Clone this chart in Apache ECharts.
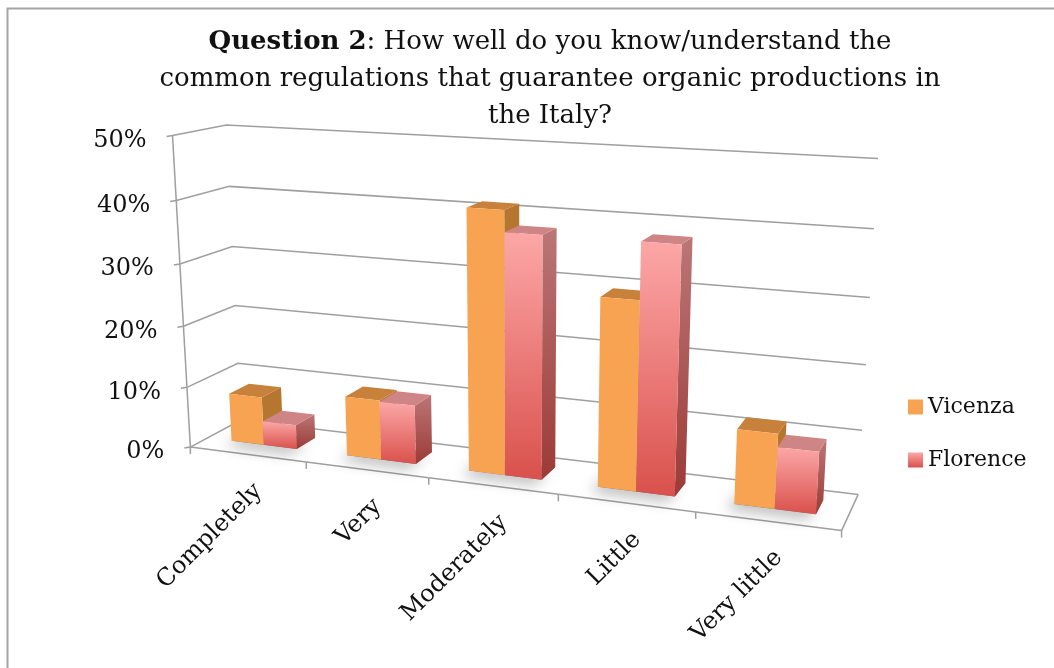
<!DOCTYPE html>
<html>
<head>
<meta charset="utf-8">
<script src="https://cdn.jsdelivr.net/npm/echarts@6/dist/echarts.min.js"></script>
<style>
  html, body { margin: 0; padding: 0; background: #fff; }
  #chart { width: 1054px; height: 668px; }
</style>
</head>
<body>
<div id="chart"></div>
<script>
// ---- data ----
const categories = ['Completely', 'Very', 'Moderately', 'Little', 'Very little'];
const vicenza = [0.08, 0.097, 0.41, 0.292, 0.114];
const florence = [0.04, 0.095, 0.377, 0.378, 0.094];
const yTicks = [0, 0.1, 0.2, 0.3, 0.4, 0.5];
const yMax = 0.5;
const seriesNames = ['Vicenza', 'Florence'];

// ---- 3D box layout: screen position of the plot box corners ----
// (u across categories, t = value / max, w = depth from front to back)
const FONT = '"DejaVu Serif", serif';
const boxCorners = [
  [[0, 0, 0], [192, 447]], [[0, 1, 0], [173, 137]],
  [[0, 0, 1], [240, 421]], [[0, 1, 1], [227, 125]],
  [[1, 0, 1], [857, 493]], [[1, 1, 1], [878, 158]],
  [[1, 0, 0], [842, 530]],
  [[0.2, 0, 0], [307, 463]], [[0.4, 0, 0], [429, 480]],
  [[0.6, 0, 0], [558, 495]], [[0.8, 0, 0], [695, 512]],
  [[1, 0.2, 1], [863, 430]], [[1, 0.4, 1], [866, 365]],
  [[1, 0.6, 1], [870, 298]], [[1, 0.8, 1], [874, 229]],
  [[0, 0.2, 0], [187, 385]], [[0, 0.4, 0], [182, 324]],
  [[0, 0.6, 0], [180, 263]], [[0, 0.8, 0], [175, 201]]
];

// least-squares fit of a perspective camera (3x4 matrix) to the box corners
function fitProjection(pairs) {
  const N = 11, cx = 500, cy = 350, s = 300;
  const M = Array.from({ length: N }, () => new Array(N + 1).fill(0));
  const addRow = (row, rhs) => {
    for (let i = 0; i < N; i++) {
      for (let j = 0; j < N; j++) M[i][j] += row[i] * row[j];
      M[i][N] += row[i] * rhs;
    }
  };
  pairs.forEach(([[u, v, w], [X0, Y0]]) => {
    const X = (X0 - cx) / s, Y = (Y0 - cy) / s;
    addRow([u, v, w, 1, 0, 0, 0, 0, -X * u, -X * v, -X * w], X);
    addRow([0, 0, 0, 0, u, v, w, 1, -Y * u, -Y * v, -Y * w], Y);
  });
  for (let c = 0; c < N; c++) {
    let p = c;
    for (let r = c + 1; r < N; r++) if (Math.abs(M[r][c]) > Math.abs(M[p][c])) p = r;
    [M[c], M[p]] = [M[p], M[c]];
    for (let r = 0; r < N; r++) {
      if (r === c) continue;
      const f = M[r][c] / M[c][c];
      for (let k = c; k <= N; k++) M[r][k] -= f * M[c][k];
    }
  }
  const h = M.map((row, i) => row[N] / row[i]);
  return (u, v, w) => {
    const d = h[8] * u + h[9] * v + h[10] * w + 1;
    return [
      (h[0] * u + h[1] * v + h[2] * w + h[3]) / d * s + cx,
      (h[4] * u + h[5] * v + h[6] * w + h[7]) / d * s + cy
    ];
  };
}
const project = fitProjection(boxCorners);

// bar layout inside a category slot (gap width 150%, gap depth 150%)
const BAR_FRAC = 1 / 3.5;
const SIDE_GAP = 0.75 / 3.5;
const W0 = 0.33, W1 = 0.73;
const GRID_COLOR = '#9F9F9F';

// convert a pixel from the cartesian grid into normalised (u, t)
function toUT(cs, pt) {
  return [(pt[0] - cs.x) / cs.width, (cs.y + cs.height - pt[1]) / cs.height];
}

function line(points, width) {
  return { type: 'polyline', shape: { points }, style: { stroke: GRID_COLOR, lineWidth: width || 1.5, fill: null }, silent: true };
}

// gridlines on the walls, value ticks and value labels
function renderValueTick(params, api) {
  const cs = params.coordSys;
  const [, t] = toUT(cs, api.coord([0, api.value(1)]));
  const a = project(0, t, 0);
  const children = [
    line([a, project(0, t, 1), project(1, t, 1)]),
    line([[a[0] - 6, a[1] + 1], a]),
    {
      type: 'text', x: a[0] - 26, y: a[1] + 5, silent: true,
      style: { text: Math.round(api.value(1) * 100) + '%', fontSize: 24, fontFamily: FONT, fill: '#111', align: 'right', verticalAlign: 'middle' }
    }
  ];
  if (params.dataIndex === 0) {
    children.push(line([project(0, 0, 0), project(0, 1, 0)]));
  }
  return { type: 'group', children };
}

// floor front edge, category ticks and category labels
function renderCategory(params, api) {
  const cs = params.coordSys;
  const [uc] = toUT(cs, api.coord([api.value(0), 0]));
  const slot = api.size([1, 0])[0] / cs.width;
  const uL = uc - slot / 2, uR = uc + slot / 2;
  const pL = project(uL, 0, 0), pR = project(uR, 0, 0);
  const children = [
    line([pL, pR]),
    line([pL, [pL[0], pL[1] + 7]])
  ];
  if (params.dataIndex === categories.length - 1) {
    children.push(line([pR, [pR[0], pR[1] + 7]]));
    children.push(line([pR, project(uR, 0, 1)]));
  }
  const c = project(uc, 0, 0);
  children.push({
    type: 'text', x: c[0] + 11, y: c[1] + 33, rotation: Math.PI / 4, silent: true,
    style: { text: categories[params.dataIndex], fontSize: 24, fontFamily: FONT, fill: '#111', align: 'right', verticalAlign: 'middle' }
  });
  return { type: 'group', children };
}

// soft contact shadow under each pair of bars
function renderShadow(params, api) {
  const cs = params.coordSys;
  const [uc] = toUT(cs, api.coord([api.value(0), 0]));
  const slot = api.size([1, 0])[0] / cs.width;
  const u0 = uc - slot / 2 + slot * SIDE_GAP;
  const u1 = u0 + slot * BAR_FRAC * 2;
  const pts = [project(u0, 0, W0), project(u1, 0, W0), project(u1, 0, W1), project(u0, 0, W1)];
  return {
    type: 'polygon', shape: { points: pts }, silent: true,
    style: { fill: 'rgba(40,40,40,0.55)', shadowBlur: 14, shadowOffsetX: -7, shadowOffsetY: 5, shadowColor: 'rgba(0,0,0,0.5)' }
  };
}

const faceStyles = [
  {
    front: '#F8A352',
    top: '#C8813A',
    side: '#B57630'
  },
  {
    front: new echarts.graphic.LinearGradient(0, 0, 0, 1, [
      { offset: 0, color: '#FCA7A7' }, { offset: 1, color: '#D9514C' }
    ]),
    top: '#CF8585',
    side: new echarts.graphic.LinearGradient(0, 0, 0, 1, [
      { offset: 0, color: '#BA7676' }, { offset: 1, color: '#9C3B37' }
    ])
  }
];

function barRenderer(sIdx) {
  return function (params, api) {
    const cs = params.coordSys;
    const [uc, t0] = toUT(cs, api.coord([api.value(0), 0]));
    const [, t1] = toUT(cs, api.coord([api.value(0), api.value(1)]));
    const slot = api.size([1, 0])[0] / cs.width;
    const u0 = uc - slot / 2 + slot * SIDE_GAP + sIdx * slot * BAR_FRAC;
    const u1 = u0 + slot * BAR_FRAC;
    const P = project;
    const st = faceStyles[sIdx];
    return {
      type: 'group',
      children: [
        { type: 'polygon', shape: { points: [P(u1, t0, W0), P(u1, t0, W1), P(u1, t1, W1), P(u1, t1, W0)] }, style: { fill: st.side } },
        { type: 'polygon', shape: { points: [P(u0, t1, W0), P(u1, t1, W0), P(u1, t1, W1), P(u0, t1, W1)] }, style: { fill: st.top } },
        { type: 'polygon', shape: { points: [P(u0, t0, W0), P(u1, t0, W0), P(u1, t1, W0), P(u0, t1, W0)] }, style: { fill: st.front } }
      ]
    };
  };
}

const chart = echarts.init(document.getElementById('chart'), null, { renderer: 'canvas' });
chart.setOption({
  animation: false,
  backgroundColor: '#fff',
  title: {
    text: '{b|Question 2}: How well do you know/understand the\ncommon regulations that guarantee organic productions in\nthe Italy?',
    left: 545, top: 19, textAlign: 'center',
    textStyle: {
      fontFamily: FONT, fontSize: 26, fontWeight: 'normal', color: '#111', lineHeight: 37,
      rich: { b: { fontFamily: FONT, fontSize: 26, fontWeight: 'bold', color: '#111', lineHeight: 37 } }
    }
  },
  legend: {
    orient: 'vertical', left: 903, top: 390,
    itemWidth: 15, itemHeight: 15, itemGap: 29, icon: 'rect',
    textStyle: { fontFamily: FONT, fontSize: 22, color: '#111', lineHeight: 24 },
    data: [
      { name: seriesNames[0], itemStyle: { color: '#F8A352' } },
      { name: seriesNames[1], itemStyle: { color: faceStyles[1].front } }
    ]
  },
  graphic: [{
    type: 'rect', shape: { x: 7.5, y: 8.5, width: 1060, height: 680 },
    style: { fill: null, stroke: '#A3A3A3', lineWidth: 2 }, silent: true
  }],
  grid: { left: 200, right: 200, top: 150, bottom: 200 },
  xAxis: { type: 'category', data: categories, show: false },
  yAxis: { type: 'value', min: 0, max: yMax, interval: 0.1, show: false },
  series: [
    { type: 'custom', name: 'grid', z: 1, clip: false, renderItem: renderValueTick, data: yTicks.map(v => [0, v]) },
    { type: 'custom', name: 'axis', z: 1, clip: false, renderItem: renderCategory, data: categories.map((c, i) => [i, 0]) },
    { type: 'custom', name: 'shadow', z: 2, clip: false, renderItem: renderShadow, data: categories.map((c, i) => [i, 0]) },
    { type: 'custom', name: seriesNames[0], z: 3, clip: false, itemStyle: { color: '#F8A352' }, renderItem: barRenderer(0), data: vicenza.map((v, i) => [i, v]) },
    { type: 'custom', name: seriesNames[1], z: 3, clip: false, itemStyle: { color: '#F28B87' }, renderItem: barRenderer(1), data: florence.map((v, i) => [i, v]) }
  ]
});
</script>
</body>
</html>
